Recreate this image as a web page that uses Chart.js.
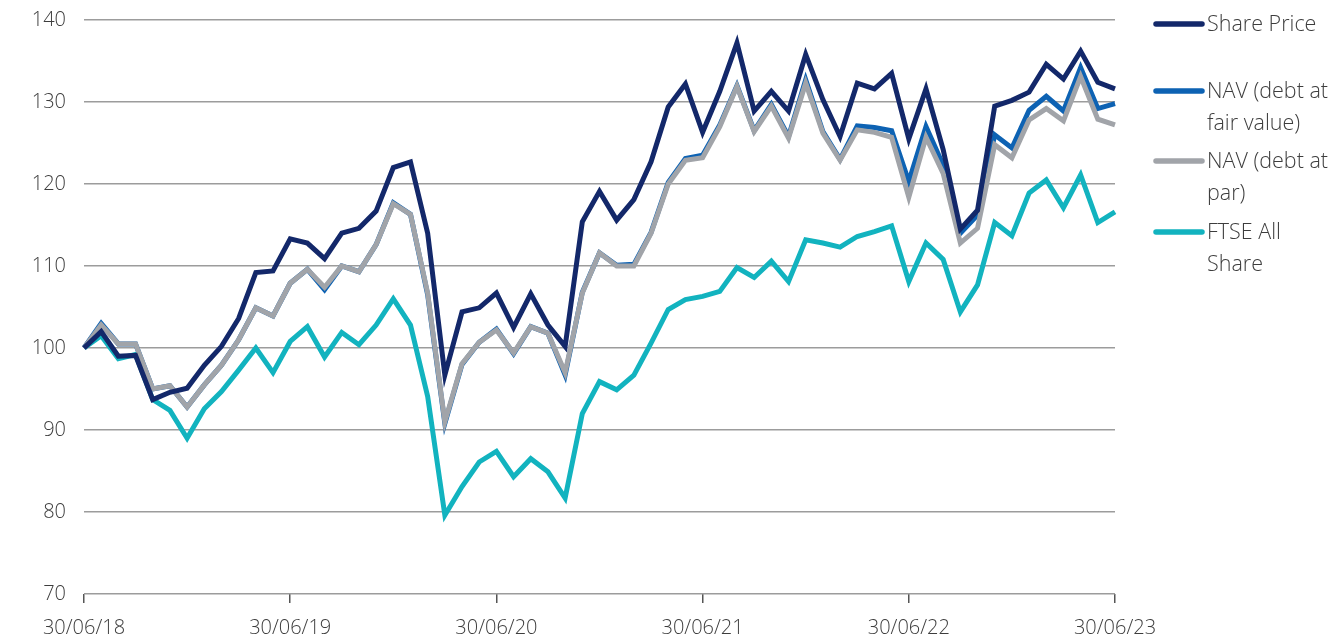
<!DOCTYPE html>
<html>
<head>
<meta charset="utf-8">
<script src="https://cdn.jsdelivr.net/npm/chart.js@4"></script>
<style>
  body { margin: 0; background: #fff; }
  #wrap { width: 1335px; height: 639px; }
</style>
</head>
<body>
<div id="wrap"><canvas id="perf" width="1335" height="639"></canvas></div>
<script>
const months = [
    "30/06/18", "31/07/18", "31/08/18", "30/09/18", "31/10/18", "30/11/18", "31/12/18",
    "31/01/19", "28/02/19", "31/03/19", "30/04/19", "31/05/19", "30/06/19", "31/07/19", "31/08/19", "30/09/19", "31/10/19", "30/11/19", "31/12/19",
    "31/01/20", "29/02/20", "31/03/20", "30/04/20", "31/05/20", "30/06/20", "31/07/20", "31/08/20", "30/09/20", "31/10/20", "30/11/20", "31/12/20",
    "31/01/21", "28/02/21", "31/03/21", "30/04/21", "31/05/21", "30/06/21", "31/07/21", "31/08/21", "30/09/21", "31/10/21", "30/11/21", "31/12/21",
    "31/01/22", "28/02/22", "31/03/22", "30/04/22", "31/05/22", "30/06/22", "31/07/22", "31/08/22", "30/09/22", "31/10/22", "30/11/22", "31/12/22",
    "31/01/23", "28/02/23", "31/03/23", "30/04/23", "31/05/23", "30/06/23"
];
const tickLabels = ["30/06/18", "30/06/19", "30/06/20", "30/06/21", "30/06/22", "30/06/23"];

const sharePrice = [100, 102.0, 99.0, 99.1, 93.7, 94.6, 95.1, 97.9, 100.2, 103.6, 109.2, 109.4,
    113.3, 112.8, 110.9, 114.0, 114.6, 116.7, 122.0, 122.7, 114.0, 96.7, 104.4, 104.9,
    106.7, 102.5, 106.6, 102.8, 100.2, 115.4, 119.1, 115.6, 118.1, 122.7, 129.4, 132.2,
    126.3, 131.3, 137.2, 128.9, 131.3, 128.9, 135.8, 130.3, 125.8, 132.3, 131.6, 133.5,
    125.5, 131.6, 124.2, 114.5, 116.8, 129.5, 130.2, 131.2, 134.6, 132.8, 136.2, 132.4, 131.6];
const navFair = [100, 103.0, 100.5, 100.5, 95.0, 95.4, 92.8, 95.5, 97.9, 101.0, 104.9, 103.9,
    107.9, 109.6, 107.1, 110.0, 109.3, 112.6, 117.7, 116.3, 106.5, 90.8, 98.0, 100.7,
    102.3, 99.3, 102.6, 101.8, 96.7, 106.8, 111.6, 110.1, 110.2, 114.1, 120.2, 123.1,
    123.5, 127.2, 132.0, 126.5, 129.7, 125.8, 132.7, 126.4, 123.0, 127.1, 126.9, 126.5,
    120.3, 127.0, 122.3, 114.0, 116.2, 126.0, 124.4, 129.0, 130.7, 128.9, 134.2, 129.2, 129.8];
const navPar = [100, 102.8, 100.5, 100.5, 95.0, 95.4, 92.8, 95.5, 97.9, 101.0, 104.9, 103.9,
    107.9, 109.6, 107.4, 110.0, 109.3, 112.6, 117.6, 116.3, 106.7, 91.0, 98.1, 100.7,
    102.2, 99.4, 102.6, 101.8, 97.0, 106.7, 111.6, 110.0, 110.0, 114.0, 120.0, 122.9,
    123.2, 127.0, 131.9, 126.4, 129.5, 125.6, 132.3, 126.2, 122.9, 126.6, 126.3, 125.7,
    118.4, 125.7, 121.3, 112.8, 114.6, 124.8, 123.2, 127.8, 129.2, 127.7, 133.1, 127.9, 127.2];
const ftseAllShare = [100, 101.5, 98.7, 99.2, 93.7, 92.4, 89.0, 92.6, 94.7, 97.3, 100.0, 97.0,
    100.8, 102.6, 98.9, 101.9, 100.4, 102.8, 106.0, 102.8, 94.1, 79.6, 83.1, 86.1,
    87.4, 84.3, 86.5, 84.9, 81.7, 92.0, 95.9, 94.9, 96.7, 100.6, 104.7, 105.9,
    106.3, 106.9, 109.8, 108.6, 110.6, 108.1, 113.2, 112.8, 112.3, 113.6, 114.2, 114.9,
    108.1, 112.8, 110.8, 104.4, 107.7, 115.3, 113.7, 118.9, 120.5, 117.1, 121.1, 115.3, 116.6];

const seriesNames = [["Share Price"], ["NAV (debt at", "fair value)"], ["NAV (debt at", "par)"], ["FTSE All", "Share"]];
const seriesColors = ["#13286a", "#0d62b3", "#a1a4a9", "#12b3bf"];

const textFont = "'Open Sans', sans-serif";
const textColor = "#3d3d3d";

// legend on the right, drawn by hand so the labels can wrap
const sideLegend = {
    id: "sideLegend",
    afterDraw(chart) {
        const ctx = chart.ctx;
        const rows = [24, 91, 161, 232];
        ctx.save();
        ctx.font = "300 21.5px " + textFont;
        ctx.textBaseline = "middle";
        chart.data.datasets.forEach(function (ds, i) {
            const y = rows[i];
            ctx.strokeStyle = ds.borderColor;
            ctx.lineWidth = 5.5;
            ctx.lineCap = "round";
            ctx.beginPath();
            ctx.moveTo(1156, y);
            ctx.lineTo(1202, y);
            ctx.stroke();
            ctx.fillStyle = textColor;
            ds.wrapped.forEach(function (line, j) {
                ctx.fillText(line, 1207, y + 1 + j * 32);
            });
        });
        ctx.restore();
    }
};

const datasets = [sharePrice, navFair, navPar, ftseAllShare].map(function (vals, i) {
    return {
        label: seriesNames[i].join(" "),
        wrapped: seriesNames[i],
        data: vals,
        borderColor: seriesColors[i],
        backgroundColor: seriesColors[i],
        borderWidth: 5,
        pointRadius: 0,
        tension: 0,
        order: [0, 2, 1, 3][i]
    };
});

new Chart(document.getElementById("perf"), {
    type: "line",
    data: { labels: months, datasets: datasets },
    plugins: [sideLegend],
    options: {
        responsive: false,
        devicePixelRatio: 1,
        animation: false,
        layout: { padding: { top: 0, right: 220, left: 0, bottom: 0 } },
        plugins: {
            legend: { display: false },
            tooltip: { enabled: false }
        },
        scales: {
            x: {
                offset: false,
                afterFit: (scale) => { scale.height = 45; },
                border: { display: false },
                grid: {
                    drawOnChartArea: false,
                    drawTicks: true,
                    tickLength: 9,
                    lineWidth: 1.5,
                    color: (c) => tickLabels.includes(months[c.index]) ? "#555555" : "rgba(0,0,0,0)"
                },
                ticks: {
                    autoSkip: false,
                    maxRotation: 0,
                    padding: 13,
                    color: textColor,
                    font: { family: textFont, size: 20, weight: 300 },
                    callback: function (v, i) {
                        return tickLabels.includes(months[i]) ? months[i] : "";
                    }
                }
            },
            y: {
                min: 70,
                max: 140,
                afterFit: (scale) => { scale.width = 84; },
                border: { display: false },
                grid: {
                    color: "#9c9c9c",
                    lineWidth: 1.6,
                    drawTicks: true,
                    tickLength: 10,
                    tickColor: "rgba(0,0,0,0)"
                },
                ticks: {
                    stepSize: 10,
                    padding: 8,
                    color: textColor,
                    font: { family: textFont, size: 20, weight: 300 }
                }
            }
        }
    }
});
</script>
</body>
</html>
